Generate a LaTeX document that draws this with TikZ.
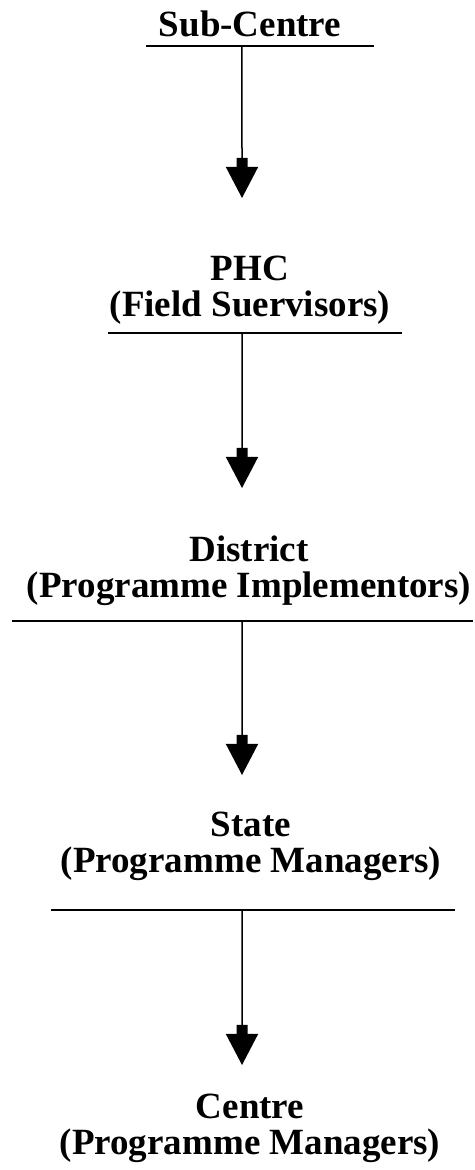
\documentclass[tikz,border=0pt]{standalone}
\usepackage{fontspec}
\setmainfont{Liberation Serif}
\usetikzlibrary{arrows.meta}

\begin{document}
\begin{tikzpicture}[x=1pt,y=1pt,
                    level/.style={font=\bfseries\fontsize{37}{36}\selectfont, align=center, inner sep=0pt, anchor=base},
                    rule/.style={line width=1.8pt},
                    flow/.style={line width=1.5pt, -{Rectangle[width=11pt,length=9pt,sep=0pt]Triangle[width=32pt,length=31pt]}}
]
\useasboundingbox (0,0) rectangle (474,1170);

\node [level] at (250,1133) (sub) {Sub-Centre};
\node [level] at (250,853) (phc) {PHC\\(Field Suervisors)};
\node [level] at (249,572) (dist) {District\\(Programme Implementors)};
\node [level] at (251,297) (state) {State\\(Programme Managers)};
\node [level] at (250,15) (centre) {Centre\\(Programme Managers)};
%
\draw [rule] (146,1124) -- (374,1124) coordinate[pos=0.421] (sub-out);
\draw [rule] (108,837) -- (402,837) coordinate[pos=0.4558] (phc-out);
\draw [rule] (12,549) -- (473,549) coordinate[pos=0.499] (dist-out);
\draw [rule] (51,260) -- (455,260) coordinate[pos=0.4728] (state-out);
%
\coordinate (phc-in) at (242,972);
\coordinate (dist-in) at (242,682);
\coordinate (state-in) at (242,395);
\coordinate (centre-in) at (242,105);
%
\draw [flow] (sub-out) -- (phc-in);
\draw [flow] (phc-out) -- (dist-in);
\draw [flow] (dist-out) -- (state-in);
\draw [flow] (state-out) -- (centre-in);
\end{tikzpicture}
\end{document}
